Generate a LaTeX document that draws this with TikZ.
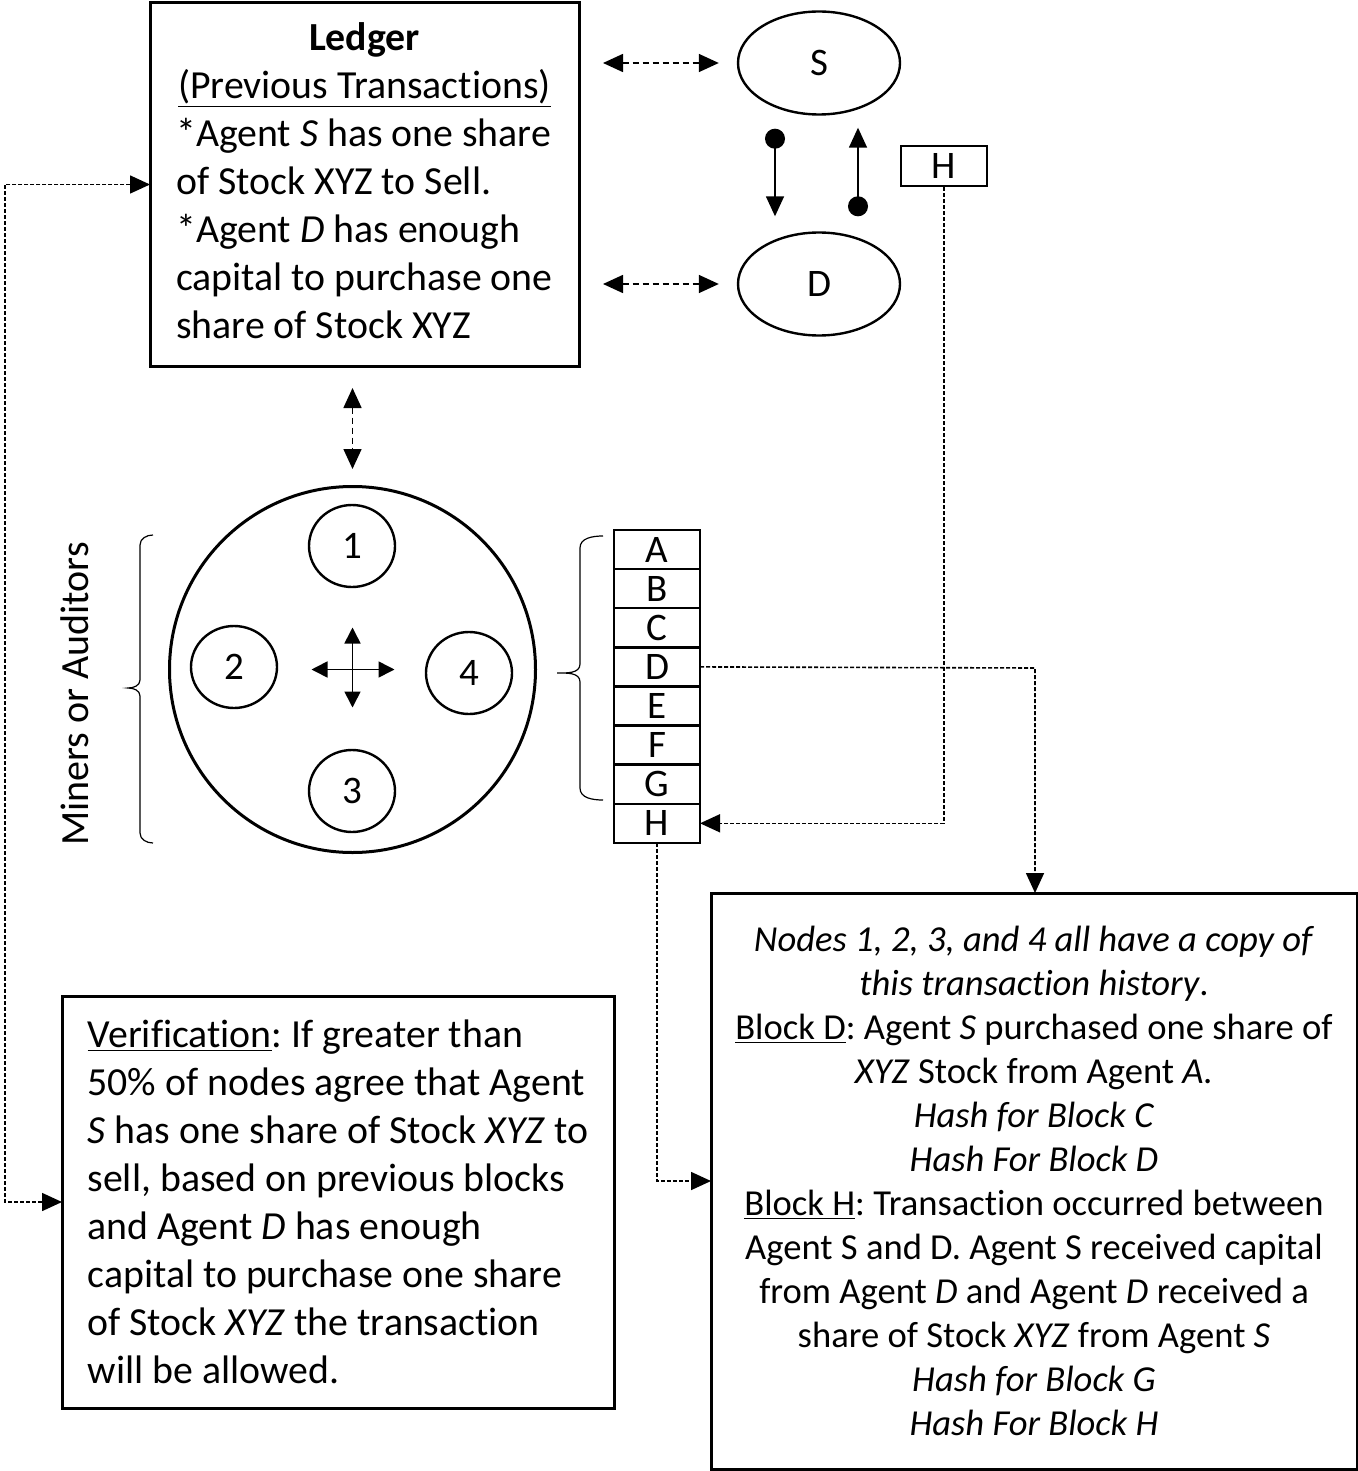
\documentclass[tikz,border=0pt]{standalone}
\usepackage{fontspec}
\setmainfont{Carlito}[Ligatures=NoCommon]
\frenchspacing
\usetikzlibrary{arrows.meta,shapes.geometric}
\tikzset{
  box/.style={draw,line width=1.5pt,rectangle,inner sep=0pt,outer sep=0pt,
    font=\fontsize{19.9pt}{24pt}\selectfont\frenchspacing},
  agent/.style={draw,line width=1.2pt,ellipse,minimum width=81pt,minimum height=51.5pt,
    font=\fontsize{19.5pt}{24pt}\selectfont,inner sep=0pt},
  miner/.style={draw,line width=1.2pt,ellipse,minimum width=43pt,minimum height=41pt,
    font=\fontsize{19.5pt}{24pt}\selectfont,inner sep=0pt},
  cell/.style={draw,line width=1.2pt,rectangle,minimum width=43pt,minimum height=19.55pt,
    inner sep=0pt,outer sep=0pt,font=\fontsize{19.5pt}{24pt}\selectfont},
  dlink/.style={line width=0.8pt,dash pattern=on 3pt off 2pt},
  conn/.style={line width=0.8pt,dash pattern=on 2pt off 1pt},
  bigtip/.tip={Triangle[length=10pt,width=9pt]},
  smalltip/.tip={Triangle[length=8pt,width=8pt]},
  brace/.style={line width=0.6pt},
}
\begin{document}
\begin{tikzpicture}[x=0.5pt,y=-0.5pt]
\useasboundingbox (0,0) rectangle (1358,1471);

% Ledger
\node[box,minimum width=214.5pt,minimum height=181.5pt] (ledger) at (364.5,184.5) {%
  \begin{tabular}{@{}l@{}}
  \multicolumn{1}{@{}c@{}}{\textbf{Ledger}}\\
  \multicolumn{1}{@{}c@{}}{\underline{(Previous Transactions)}}\\
  {*}Agent \textit{S} has one share\\
  of Stock XYZ to Sell.\\
  {*}Agent \textit{D} has enough\\
  capital to purchase one\\
  share of Stock XYZ
  \end{tabular}};

% Agents
\node[agent] (S) at (819,63) {S};
\node[agent] (D) at (819,284) {D};
\node[draw,line width=1.2pt,rectangle,minimum width=43pt,minimum height=20pt,inner sep=0pt,
  font=\fontsize{19.5pt}{24pt}\selectfont] (hbox) at (944,166) {H};

\draw[dlink,bigtip-bigtip,shorten <=12pt,shorten >=9pt] (ledger.east |- S) -- (S.west);
\draw[dlink,bigtip-bigtip,shorten <=12pt,shorten >=9pt] (ledger.east |- D) -- (D.west);

\draw[line width=0.8pt,{Circle[length=10pt]}-bigtip,shorten <=6.5pt,shorten >=7.5pt]
  ([xshift=-22pt]S.south) -- ([xshift=-22pt]D.north);
\draw[line width=0.8pt,{Circle[length=10pt]}-bigtip,shorten <=7.5pt,shorten >=6pt]
  ([xshift=19.5pt]D.north) -- ([xshift=19.5pt]S.south);

% Network of miners
\node[draw,circle,line width=1.5pt,minimum size=183pt,inner sep=0pt] (net) at (352.5,669.5) {};
\node[miner] (m1) at (352,546) {1};
\node[miner] (m2) at (234,667) {2};
\node[miner] (m4) at (469,673) {4};
\node[miner] (m3) at (352,791) {3};
\draw[line width=0.8pt,smalltip-smalltip] ([xshift=-20.5pt]net.center) -- ([xshift=21pt]net.center);
\draw[line width=0.8pt,smalltip-smalltip] ([yshift=21pt]net.center) -- ([yshift=-19pt]net.center);

\draw[dlink,bigtip-bigtip,shorten <=11pt,shorten >=8pt] (ledger.south -| net) -- (net.north);

% Miners label and bracket
\node[rotate=90,font=\fontsize{20pt}{24pt}\selectfont] (lbl) at (75,694) {Miners or Auditors};
\draw[brace] (153,535) to[out=180,in=90] (140,545) -- (140,680) to[out=-90,in=0] (128,688)
  to[out=0,in=90] (140,696) -- (140,833) to[out=-90,in=180] (153,843);

% Blocks
\foreach \l [count=\i from 0] in {A,B,C,D,E,F,G,H}
  \node[cell] (c\l) at (657,{549.6+39.1*\i}) {\l};

\draw[brace] (603,536) to[out=180,in=90] (580,548) -- (580,664) to[out=-90,in=0] (557,673)
  to[out=0,in=90] (580,682) -- (580,788) to[out=-90,in=180] (603,800);

% Transaction history
\node[box,minimum width=323pt,minimum height=288pt,align=center,
  font=\fontsize{18.3pt}{22pt}\selectfont\frenchspacing] (hist) at (1034,1181) {%
  \textit{Nodes 1, 2, 3, and 4 all have a copy of}\\
  \textit{this transaction history}.\\
  \underline{Block D}: Agent \textit{S} purchased one share of\\
  \textit{XYZ} Stock from Agent \textit{A.}\\
  \textit{Hash for Block C}\\
  \textit{Hash For Block D}\\
  \underline{Block H}: Transaction occurred between\\
  Agent S and D. Agent S received capital\\
  from Agent \textit{D} and Agent \textit{D} received a\\
  share of Stock \textit{XYZ} from Agent \textit{S}\\
  \textit{Hash for Block G}\\
  \textit{Hash For Block H}};

% Verification
\node[box,minimum width=276pt,minimum height=206pt,align=left]
  (verif) at (338,1202) {\underline{Verification}: If greater than\\
  50\% of nodes agree that Agent\\
  \textit{S} has one share of Stock \textit{XYZ} to\\
  sell, based on previous blocks\\
  and Agent \textit{D} has enough\\
  capital to purchase one share\\
  of Stock \textit{XYZ} the transaction\\
  will be allowed.};

% Connectors
\coordinate (dturn) at (1035,668);
\coordinate (lft) at (5,0);
\draw[conn,-bigtip] (cD.east) -- (dturn) -- (dturn |- hist.north);
\draw[conn,-bigtip] (hbox.south) |- (cH.east);
\draw[conn,-bigtip] (cH.south) |- (hist.west);
\draw[conn,bigtip-bigtip] (ledger.west) -- (ledger.west -| lft) -- (verif.west -| lft) -- (verif.west);
\end{tikzpicture}
\end{document}
